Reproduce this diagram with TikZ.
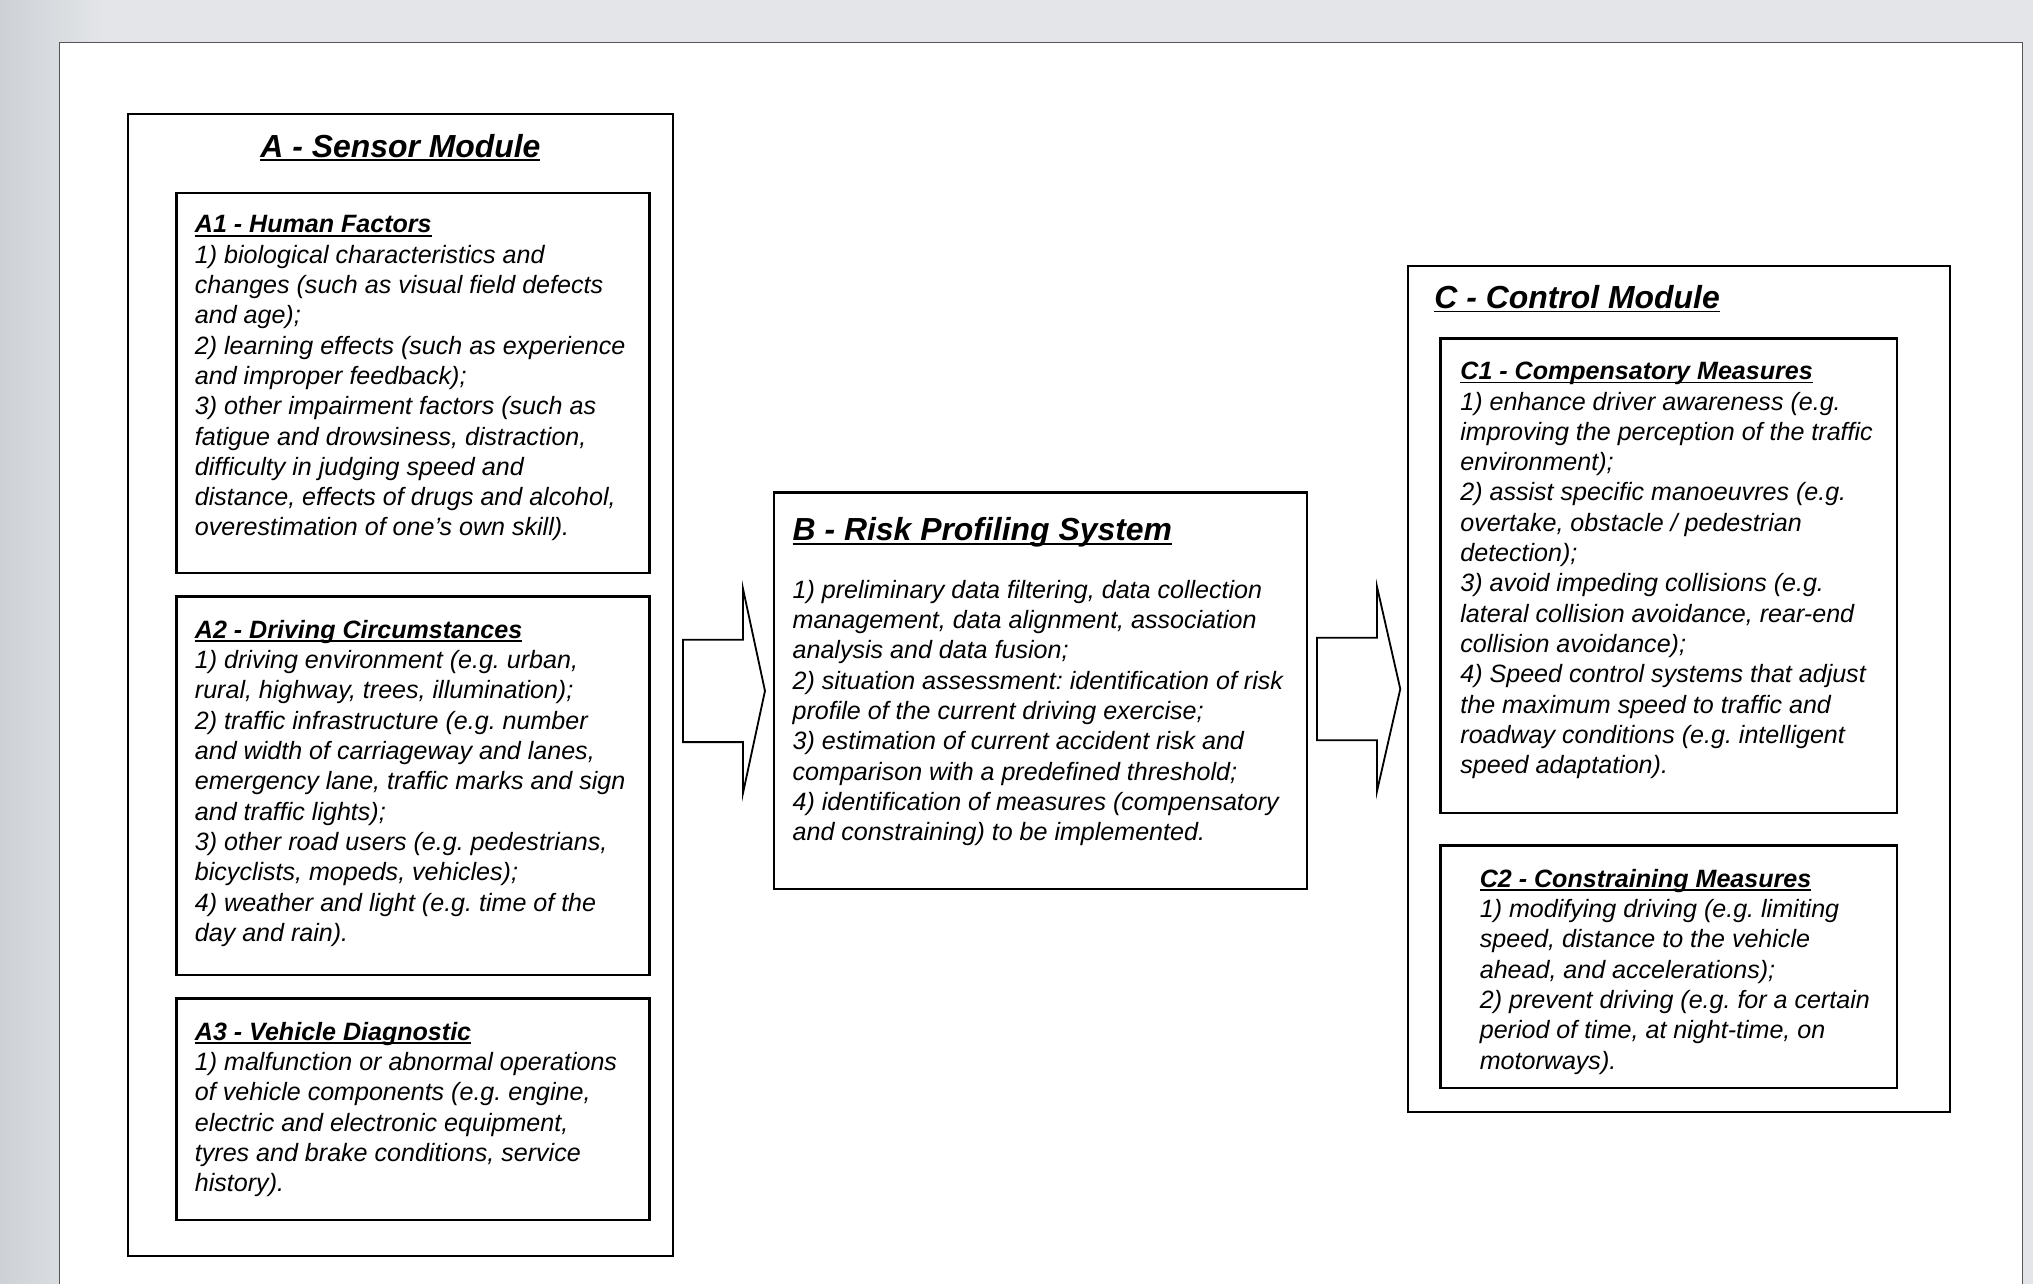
\documentclass[tikz,border=0pt]{standalone}
\usepackage{fontspec}
\setmainfont{Liberation Sans}
\usetikzlibrary{positioning, calc}

\definecolor{pagegray}{HTML}{E3E5E8}
\definecolor{edgegray}{HTML}{CDD1D5}
\definecolor{framegray}{HTML}{555555}

% bold heading with a rule just under the baseline
\newsavebox{\headbox}
\newcommand{\heading}[1]{\sbox{\headbox}{\textbf{#1}}%
    \rlap{\rule[-1.6pt]{\wd\headbox}{0.75pt}}\usebox{\headbox}}

\tikzset{
  modbox/.style={draw, line width=1pt, anchor=north west, inner sep=0pt},
  subbox/.style={draw, line width=1.1pt, anchor=north west, inner sep=0pt},
  bodytext/.style={inner sep=0pt, align=left, font=\fontsize{11}{13.3}\selectfont\itshape\frenchspacing},
  modtitle/.style={inner sep=0pt, font=\fontsize{14}{17}\selectfont\bfseries\itshape},
  flow/.style={draw, line width=0.8pt, fill=white, line join=miter},
}

\begin{document}
\frenchspacing
\begin{tikzpicture}
    % page and background
    \useasboundingbox (0,0) rectangle (31.36,-19.8);
    \fill[pagegray] (0,0) rectangle (31.36,-19.8);
    \shade[left color=edgegray, right color=pagegray] (0,0) rectangle (1.6,-19.8);
    \fill[white] (0.92,-0.66) rectangle (31.2,-19.8);
    \draw[framegray, line width=0.5pt] (0.92,-19.8) -- (0.92,-0.66) -- (31.2,-0.66) -- (31.2,-19.8);

    % A - sensor module
    \node[modbox, minimum width=8.4cm, minimum height=17.62cm] (A) at (1.96,-1.74) {};
    \node[modtitle, below=0.32cm of A.north] (Atitle) {\heading{A - Sensor Module}};

    \node[subbox, minimum width=7.3cm, minimum height=5.86cm] (A1) at (2.70,-2.96) {};
    \node[bodytext, below right=0.36cm and 0.3cm of A1.north west] (A1text) {%
        \heading{A1 - Human Factors}\\
        1) biological characteristics and\\
        changes (such as visual field defects\\
        and age);\\
        2) learning effects (such as experience\\
        and improper feedback);\\
        3) other impairment factors (such as\\
        fatigue and drowsiness, distraction,\\
        difficulty in judging speed and\\
        distance, effects of drugs and alcohol,\\
        overestimation of one’s own skill).};

    \node[subbox, minimum width=7.3cm, minimum height=5.84cm] (A2) at (2.70,-9.18) {};
    \node[bodytext, below right=0.38cm and 0.3cm of A2.north west] (A2text) {%
        \heading{A2 - Driving Circumstances}\\
        1) driving environment (e.g. urban,\\
        rural, highway, trees, illumination);\\
        2) traffic infrastructure (e.g. number\\
        and width of carriageway and lanes,\\
        emergency lane, traffic marks and sign\\
        and traffic lights);\\
        3) other road users (e.g. pedestrians,\\
        bicyclists, mopeds, vehicles);\\
        4) weather and light (e.g. time of the\\
        day and rain).};

    \node[subbox, minimum width=7.3cm, minimum height=3.42cm] (A3) at (2.70,-15.38) {};
    \node[bodytext, below right=0.38cm and 0.3cm of A3.north west] (A3text) {%
        \heading{A3 - Vehicle Diagnostic}\\
        1) malfunction or abnormal operations\\
        of vehicle components (e.g. engine,\\
        electric and electronic equipment,\\
        tyres and brake conditions, service\\
        history).};

    % B - risk profiling
    \node[modbox, minimum width=8.22cm, minimum height=6.12cm] (B) at (11.92,-7.58) {};
    \node[modtitle, below right=0.4cm and 0.3cm of B.north west] (Btitle) {\heading{B - Risk Profiling System}};
    \node[bodytext, below right=1.36cm and 0.3cm of B.north west] (Btext) {%
        1) preliminary data filtering, data collection\\
        management, data alignment, association\\
        analysis and data fusion;\\
        2) situation assessment: identification of risk\\
        profile of the current driving exercise;\\
        3) estimation of current accident risk and\\
        comparison with a predefined threshold;\\
        4) identification of measures (compensatory\\
        and constraining) to be implemented.};

    % C - control module
    \node[modbox, minimum width=8.36cm, minimum height=13.06cm] (C) at (21.7,-4.08) {};
    \node[modtitle, below right=0.32cm and 0.42cm of C.north west] (Ctitle) {\heading{C - Control Module}};

    \node[subbox, minimum width=7.04cm, minimum height=7.32cm] (C1) at (22.2,-5.2) {};
    \node[bodytext, below right=0.38cm and 0.32cm of C1.north west] (C1text) {%
        \heading{C1 - Compensatory Measures}\\
        1) enhance driver awareness (e.g.\\
        improving the perception of the traffic\\
        environment);\\
        2) assist specific manoeuvres (e.g.\\
        overtake, obstacle / pedestrian\\
        detection);\\
        3) avoid impeding collisions (e.g.\\
        lateral collision avoidance, rear-end\\
        collision avoidance);\\
        4) Speed control systems that adjust\\
        the maximum speed to traffic and\\
        roadway conditions (e.g. intelligent\\
        speed adaptation).};

    \node[subbox, minimum width=7.04cm, minimum height=3.74cm] (C2) at (22.2,-13.02) {};
    \node[bodytext, below right=0.38cm and 0.62cm of C2.north west] (C2text) {%
        \heading{C2 - Constraining Measures}\\
        1) modifying driving (e.g. limiting\\
        speed, distance to the vehicle\\
        ahead, and accelerations);\\
        2) prevent driving (e.g. for a certain\\
        period of time, at night-time, on\\
        motorways).};

    % block arrows
    \draw[flow] let \p1=(A.east), \p2=(B.west) in
        (\x1+0.14cm,\y2+0.79cm) -- (\x2-0.46cm,\y2+0.79cm) -- (\x2-0.46cm,\y2+1.58cm)
        -- (\x2-0.12cm,\y2) -- (\x2-0.46cm,\y2-1.58cm) -- (\x2-0.46cm,\y2-0.79cm)
        -- (\x1+0.14cm,\y2-0.79cm) -- cycle;
    \draw[flow] let \p1=(B.east), \p2=(C.west) in
        (\x1+0.14cm,\y2+0.79cm) -- (\x2-0.46cm,\y2+0.79cm) -- (\x2-0.46cm,\y2+1.58cm)
        -- (\x2-0.1cm,\y2) -- (\x2-0.46cm,\y2-1.58cm) -- (\x2-0.46cm,\y2-0.79cm)
        -- (\x1+0.14cm,\y2-0.79cm) -- cycle;
\end{tikzpicture}
\end{document}
